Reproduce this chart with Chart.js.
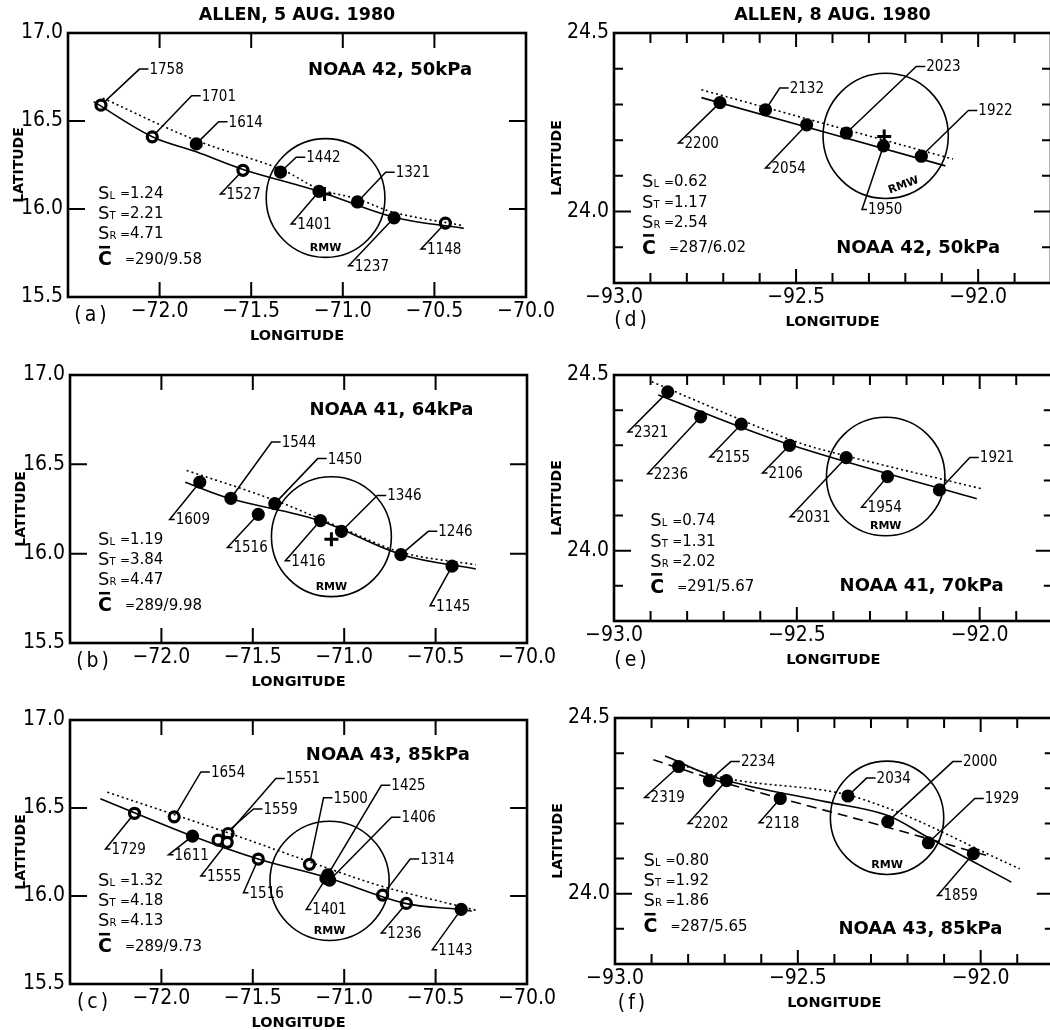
<!DOCTYPE html>
<html>
<head>
<meta charset="utf-8">
<script src="https://cdn.jsdelivr.net/npm/chart.js@4.4.1/dist/chart.umd.min.js"></script>
<style>
html,body{margin:0;padding:0;background:#fff;overflow:hidden;width:1050px;height:1030px;}
.p{position:absolute;}
</style>
</head>
<body>
<div class="p" id="w0"><canvas id="c0"></canvas></div>
<div class="p" id="w1"><canvas id="c1"></canvas></div>
<div class="p" id="w2"><canvas id="c2"></canvas></div>
<div class="p" id="w3"><canvas id="c3"></canvas></div>
<div class="p" id="w4"><canvas id="c4"></canvas></div>
<div class="p" id="w5"><canvas id="c5"></canvas></div>
<script>
// ================= DATA =================
// Panel (a) NOAA 42, 50 kPa, 5 Aug
const aTimes = ['1758','1701','1614','1527','1442','1401','1321','1237','1148'];
const aLon = [-72.32,-72.04,-71.80,-71.545,-71.34,-71.13,-70.92,-70.72,-70.44];
const aLat = [16.59,16.41,16.37,16.22,16.21,16.10,16.04,15.95,15.92];
const aSolidLon = [-72.36,-72.04,-71.80,-71.545,-71.13,-70.72,-70.34];
const aSolidLat = [16.61,16.41,16.325,16.225,16.10,15.953,15.89];
const aDotLon = [-72.31,-71.80,-71.34,-71.13,-70.92,-70.72,-70.34];
const aDotLat = [16.63,16.39,16.227,16.114,16.057,15.98,15.905];
const aCrossLon = [-71.10];
const aCrossLat = [16.085];

// Panel (b) NOAA 41, 64 kPa, 5 Aug
const bTimes = ['1609','1544','1516','1450','1416','1346','1246','1145'];
const bLon = [-71.79,-71.62,-71.47,-71.38,-71.13,-71.015,-70.69,-70.41];
const bLat = [16.40,16.31,16.22,16.28,16.185,16.125,15.995,15.93];
const bSolidLon = [-71.87,-71.62,-71.136,-70.685,-70.28];
const bSolidLat = [16.40,16.307,16.185,15.994,15.914];
const bDotLon = [-71.862,-71.378,-71.015,-70.685,-70.28];
const bDotLat = [16.466,16.298,16.144,16.007,15.938];
const bCrossLon = [-71.07];
const bCrossLat = [16.08];

// Panel (c) NOAA 43, 85 kPa, 5 Aug
const cTimes = ['1729','1654','1611','1559','1551','1555','1516','1500','1425','1406','1401','1314','1236','1143'];
const cLon = [-72.147,-71.93,-71.83,-71.69,-71.635,-71.64,-71.47,-71.19,-71.09,-71.08,-71.10,-70.79,-70.66,-70.36];
const cLat = [16.47,16.45,16.34,16.318,16.355,16.305,16.21,16.18,16.12,16.09,16.10,16.005,15.958,15.924];
const cSolidLon = [-72.334,-71.827,-71.471,-71.095,-70.667,-70.369,-70.303];
const cSolidLat = [16.553,16.339,16.21,16.105,15.958,15.924,15.914];
const cDotLon = [-72.296,-71.644,-71.049,-70.769,-70.275];
const cDotLat = [16.59,16.362,16.143,16.048,15.918];
const cCrossLon = [];
const cCrossLat = [];

// Panel (d) NOAA 42, 50 kPa, 8 Aug
const dTimes = ['2200','2132','2054','2023','1950','1922'];
const dLon = [-92.709,-92.584,-92.471,-92.362,-92.26,-92.156];
const dLat = [24.305,24.285,24.243,24.22,24.184,24.155];
const dSolidLon = [-92.76,-92.09];
const dSolidLat = [24.319,24.128];
const dDotLon = [-92.76,-92.069];
const dDotLat = [24.341,24.147];
const dCrossLon = [-92.258];
const dCrossLat = [24.21];

// Panel (e) NOAA 41, 70 kPa, 8 Aug
const eTimes = ['2321','2236','2155','2106','2031','1954','1921'];
const eLon = [-92.853,-92.763,-92.652,-92.52,-92.365,-92.252,-92.11];
const eLat = [24.452,24.381,24.36,24.30,24.265,24.211,24.173];
const eSolidLon = [-92.879,-92.52,-92.008];
const eSolidLat = [24.443,24.302,24.148];
const eDotLon = [-92.897,-92.518,-92.365,-91.994];
const eDotLat = [24.481,24.316,24.27,24.176];
const eCrossLon = [];
const eCrossLat = [];

// Panel (f) NOAA 43, 85 kPa, 8 Aug
const fTimes = ['2319','2234','2202','2118','2034','2000','1929','1859'];
const fLon = [-92.826,-92.742,-92.695,-92.548,-92.363,-92.254,-92.143,-92.02];
const fLat = [24.362,24.322,24.322,24.271,24.278,24.205,24.145,24.114];
const fSolidLon = [-92.863,-92.703,-92.425,-92.258,-92.147,-91.916];
const fSolidLat = [24.392,24.324,24.262,24.224,24.162,24.033];
const fDashLon = [-92.895,-92.695,-92.258,-91.971];
const fDashLat = [24.381,24.314,24.19,24.105];
const fDotLon = [-92.83,-92.685,-92.333,-91.893];
const fDotLat = [24.37,24.326,24.272,24.071];
const fCrossLon = [];
const fCrossLat = [];

// RMW circles (centre lon/lat, radius in degrees of longitude)
const rmwLon = [-71.094,-71.07,-71.08,-92.254,-92.257,-92.256];
const rmwLat = [16.0625,16.095,16.086,24.212,24.211,24.216];
const rmwRadius = [0.324,0.328,0.326,0.172,0.162,0.155];

// statistics
const statSL = ['1.24','1.19','1.32','0.62','0.74','0.80'];
const statST = ['2.21','3.84','4.18','1.17','1.31','1.92'];
const statSR = ['4.71','4.47','4.13','2.54','2.02','1.86'];
const statC  = ['290/9.58','289/9.98','289/9.73','287/6.02','291/5.67','287/5.65'];
const flights = ['NOAA 42, 50kPa','NOAA 41, 64kPa','NOAA 43, 85kPa','NOAA 42, 50kPa','NOAA 41, 70kPa','NOAA 43, 85kPa'];
const letters = ['(a)','(b)','(c)','(d)','(e)','(f)'];
const titles = ['ALLEN, 5 AUG. 1980','','','ALLEN, 8 AUG. 1980','',''];

// tick labels
const leftLonTicks = [-72.0,-71.5,-71.0,-70.5,-70.0];
const leftLonLabels = ['\u221272.0','\u221271.5','\u221271.0','\u221270.5','\u221270.0'];
const leftLatTicks = [17.0,16.5,16.0,15.5];
const leftLatLabels = ['17.0','16.5','16.0','15.5'];
const rightLonTicks = [-93.0,-92.5,-92.0];
const rightLonLabels = ['\u221293.0','\u221292.5','\u221292.0'];
const rightLatTicks = [24.5,24.0];
const rightLatLabels = ['24.5','24.0'];

// ================= LABEL PLACEMENT (elbow of each time-tag leader, data coords) =================
const aTagLon = [-72.11,-71.825,-71.678,-71.668,-71.254,-71.282,-70.766,-70.968,-70.573];
const aTagLat = [16.795,16.644,16.496,16.085,16.294,15.915,16.209,15.678,15.773];
const bTagLon = [-71.955,-71.397,-71.639,-71.145,-71.322,-70.819,-70.54,-70.53];
const bTagLat = [16.191,16.625,16.035,16.532,15.96,16.326,16.125,15.708];
const cTagLon = [-72.306,-71.784,-71.961,-71.496,-71.374,-71.784,-71.551,-71.113,-70.797,-70.741,-71.207,-70.639,-70.797,-70.518];
const cTagLat = [16.267,16.705,16.234,16.495,16.667,16.114,16.019,16.558,16.629,16.447,15.924,16.21,15.79,15.695];
const dTagLon = [-92.823,-92.545,-92.584,-92.17,-92.319,-92.027];
const dTagLat = [24.192,24.346,24.122,24.406,24.006,24.283];
const eTagLon = [-92.962,-92.908,-92.738,-92.594,-92.518,-92.323,-92.027];
const eTagLat = [24.338,24.219,24.267,24.221,24.097,24.124,24.265];
const fTagLon = [-92.919,-92.683,-92.8,-92.606,-92.312,-92.076,-92.016,-92.118];
const fTagLat = [24.274,24.376,24.2,24.202,24.329,24.376,24.271,23.995];

// ================= STYLE / LAYOUT =================
// indices of points drawn as open rings (per panel)
const HOLLOW = [[0,1,3,8],[],[0,1,3,4,5,6,7,11,12],[],[],[]];
const GEOM = [
 {L:68, R:526, T:33, B:297, yw:62, padR:34, side:0, statAt:[-72.336,16.097], noaaAt:[-71.19,16.786], letterDx:24, letterDy:19, rmwRot:0},
 {L:70, R:527, T:375, B:643, yw:62, padR:34, side:0, statAt:[-72.347,16.088], noaaAt:[-71.19,16.80], letterDx:24, letterDy:19, rmwRot:0},
 {L:70, R:527, T:720, B:984, yw:62, padR:34, side:0, statAt:[-72.347,16.097], noaaAt:[-71.21,16.80], letterDx:24, letterDy:19, rmwRot:0},
 {L:614, R:1055, T:33, B:283, yw:70, padR:6, side:1, statAt:[-92.923,24.088], noaaAt:[-92.39,23.898], letterDx:18, letterDy:38, rmwRot:-0.35},
 {L:614, R:1055, T:375, B:621, yw:70, padR:6, side:1, statAt:[-92.901,24.09], noaaAt:[-92.383,23.898], letterDx:18, letterDy:40, rmwRot:0},
 {L:615, R:1056, T:718, B:964, yw:70, padR:6, side:1, statAt:[-92.922,24.099], noaaAt:[-92.389,23.90], letterDx:18, letterDy:40, rmwRot:0}
];
const XH = 52, TOPPAD = 33;

const FN = "'Liberation Sans Narrow', 'DejaVu Sans Condensed', sans-serif";
const FS = "'DejaVu Sans', sans-serif";

function pts(lon, lat){ return lon.map((x,i)=>({x:x, y:lat[i]})); }
function labelFor(v, vals, labs){ const i = vals.findIndex(t=>Math.abs(t-v)<1e-6); return i<0 ? '' : labs[i]; }

const PANELS = [
 {times:aTimes, lon:aLon, lat:aLat, tagLon:aTagLon, tagLat:aTagLat, solid:pts(aSolidLon,aSolidLat), dot:pts(aDotLon,aDotLat), dash:null, cross:pts(aCrossLon,aCrossLat)},
 {times:bTimes, lon:bLon, lat:bLat, tagLon:bTagLon, tagLat:bTagLat, solid:pts(bSolidLon,bSolidLat), dot:pts(bDotLon,bDotLat), dash:null, cross:pts(bCrossLon,bCrossLat)},
 {times:cTimes, lon:cLon, lat:cLat, tagLon:cTagLon, tagLat:cTagLat, solid:pts(cSolidLon,cSolidLat), dot:pts(cDotLon,cDotLat), dash:null, cross:pts(cCrossLon,cCrossLat)},
 {times:dTimes, lon:dLon, lat:dLat, tagLon:dTagLon, tagLat:dTagLat, solid:pts(dSolidLon,dSolidLat), dot:pts(dDotLon,dDotLat), dash:null, cross:pts(dCrossLon,dCrossLat)},
 {times:eTimes, lon:eLon, lat:eLat, tagLon:eTagLon, tagLat:eTagLat, solid:pts(eSolidLon,eSolidLat), dot:pts(eDotLon,eDotLat), dash:null, cross:pts(eCrossLon,eCrossLat)},
 {times:fTimes, lon:fLon, lat:fLat, tagLon:fTagLon, tagLat:fTagLat, solid:pts(fSolidLon,fSolidLat), dot:pts(fDotLon,fDotLat), dash:pts(fDashLon,fDashLat), cross:pts(fCrossLon,fCrossLat)}
];

function drawStats(ctx, x, y, k){
  const rows = [['L',statSL[k]],['T',statST[k]],['R',statSR[k]]];
  const dy = [0, 20.5, 40.5];
  ctx.fillStyle = '#000';
  ctx.textAlign = 'left';
  ctx.textBaseline = 'alphabetic';
  rows.forEach((r,j)=>{
    const yy = y + dy[j];
    ctx.font = '18px ' + FS; ctx.fillText('S', x, yy + 7);
    ctx.font = '10px ' + FS; ctx.fillText(r[0], x + 11.5, yy + 7);
    ctx.font = '12px ' + FS; ctx.fillText('=', x + 22, yy + 5.5);
    ctx.font = '15px ' + FS; ctx.fillText(r[1], x + 32, yy + 6);
  });
  const yc = y + 66;
  ctx.font = 'bold 19px ' + FS; ctx.fillText('C', x, yc + 7.5);
  ctx.fillRect(x + 1, yc - 12, 11, 2.5);
  ctx.font = '12px ' + FS; ctx.fillText('=', x + 27, yc + 5.5);
  ctx.font = '15px ' + FS; ctx.fillText(statC[k], x + 37, yc + 6);
}

const deco = {
  id: 'deco',
  beforeDatasetsDraw(chart){
    const k = chart.options.plugins.deco.k;
    const P = PANELS[k], G = GEOM[k];
    const xs = chart.scales.x, ys = chart.scales.y, ctx = chart.ctx;
    ctx.save();
    // RMW circle
    const cx = xs.getPixelForValue(rmwLon[k]), cy = ys.getPixelForValue(rmwLat[k]);
    const r = Math.abs(xs.getPixelForValue(rmwLon[k] + rmwRadius[k]) - cx);
    ctx.strokeStyle = '#000'; ctx.lineWidth = 1.6;
    ctx.beginPath(); ctx.arc(cx, cy, r, 0, Math.PI*2); ctx.stroke();
    // RMW label
    ctx.save();
    const ph = -G.rmwRot;
    ctx.translate(cx + Math.sin(ph)*r*0.84, cy + Math.cos(ph)*r*0.84);
    ctx.rotate(G.rmwRot);
    ctx.font = 'bold 11px ' + FS; ctx.textAlign = 'center'; ctx.textBaseline = 'middle'; ctx.fillStyle = '#000';
    ctx.fillText('RMW', 0, 0);
    ctx.restore();
    // time-tag leaders
    ctx.font = '15px ' + FN; ctx.textAlign = 'left'; ctx.textBaseline = 'middle'; ctx.fillStyle = '#000';
    ctx.lineWidth = 1.5;
    P.times.forEach((t,i)=>{
      const px = xs.getPixelForValue(P.lon[i]), py = ys.getPixelForValue(P.lat[i]);
      const ex = xs.getPixelForValue(P.tagLon[i]), ey = ys.getPixelForValue(P.tagLat[i]);
      const hook = ey < py ? 9 : 5;
      ctx.beginPath(); ctx.moveTo(px, py); ctx.lineTo(ex, ey); ctx.lineTo(ex + hook, ey); ctx.stroke();
      ctx.fillText(t, ex + hook + 1, ey + 1);
    });
    ctx.restore();
  },
  afterDraw(chart){
    const k = chart.options.plugins.deco.k;
    const G = GEOM[k];
    const xs = chart.scales.x, ys = chart.scales.y, ctx = chart.ctx;
    const a = chart.chartArea;
    ctx.save();
    ctx.strokeStyle = '#000'; ctx.fillStyle = '#000';
    // frame
    ctx.lineWidth = 2.6;
    ctx.strokeRect(a.left, a.top, a.right - a.left, a.bottom - a.top);
    // inward ticks
    ctx.lineWidth = 2;
    const xv = G.side ? rightLonTicks : leftLonTicks;
    const yv = G.side ? rightLatTicks : leftLatTicks;
    xs.ticks.forEach(t=>{
      if (Math.abs(t.value - xs.min) < 1e-6 || Math.abs(t.value - xs.max) < 1e-6) return;
      const major = xv.some(v=>Math.abs(v - t.value) < 1e-6);
      const len = G.side ? (major ? 14 : 10) : 15;
      const px = xs.getPixelForValue(t.value);
      ctx.beginPath();
      ctx.moveTo(px, a.bottom); ctx.lineTo(px, a.bottom - len);
      ctx.moveTo(px, a.top); ctx.lineTo(px, a.top + len);
      ctx.stroke();
    });
    ys.ticks.forEach(t=>{
      if (Math.abs(t.value - ys.min) < 1e-6 || Math.abs(t.value - ys.max) < 1e-6) return;
      const major = yv.some(v=>Math.abs(v - t.value) < 1e-6);
      const len = G.side ? (major ? 17 : 9) : 17;
      const py = ys.getPixelForValue(t.value);
      ctx.beginPath();
      ctx.moveTo(a.left, py); ctx.lineTo(a.left + len, py);
      ctx.moveTo(a.right, py); ctx.lineTo(a.right - len, py);
      ctx.stroke();
    });
    // panel title
    if (titles[k]) {
      ctx.font = 'bold 17.5px ' + FS; ctx.textAlign = 'center'; ctx.textBaseline = 'middle';
      ctx.fillText(titles[k], (a.left + a.right)/2, a.top - 18);
    }
    // flight / level
    ctx.font = 'bold 18px ' + FS; ctx.textAlign = 'left'; ctx.textBaseline = 'middle';
    ctx.fillText(flights[k], xs.getPixelForValue(G.noaaAt[0]), ys.getPixelForValue(G.noaaAt[1]));
    // stats
    drawStats(ctx, xs.getPixelForValue(G.statAt[0]), ys.getPixelForValue(G.statAt[1]), k);
    // panel letter
    ctx.font = '21px ' + FN; ctx.textAlign = 'center'; ctx.textBaseline = 'middle';
    try { ctx.letterSpacing = '3px'; } catch(e) {}
    ctx.fillText(letters[k], a.left + G.letterDx, a.bottom + G.letterDy);
    try { ctx.letterSpacing = '0px'; } catch(e) {}
    ctx.restore();
  }
};

GEOM.forEach((G,k)=>{
  const w = document.getElementById('w' + k);
  const left = G.L - G.yw, top = G.T - TOPPAD;
  w.style.left = left + 'px';
  w.style.top = top + 'px';
  w.style.width = (G.R - G.L + G.yw + G.padR) + 'px';
  w.style.height = (G.B - G.T + TOPPAD + XH) + 'px';
  const P = PANELS[k];
  const side = G.side;
  const fills = P.lon.map((_,i)=> HOLLOW[k].indexOf(i) >= 0 ? '#fff' : '#000');
  const ds = [
    {data:P.solid, showLine:true, borderColor:'#000', borderWidth:1.6, pointRadius:0, tension:0.35, fill:false},
    {data:P.dot, showLine:true, borderColor:'#000', borderWidth:1.6, borderDash:[2,3], pointRadius:0, tension:0.35, fill:false}
  ];
  if (P.dash) ds.push({data:P.dash, showLine:true, borderColor:'#000', borderWidth:1.6, borderDash:[10,6], pointRadius:0, tension:0.3, fill:false});
  ds.push({data:pts(P.lon, P.lat), showLine:false, pointRadius:5, pointBackgroundColor:fills, pointBorderColor:'#000', pointBorderWidth:3.2});
  if (P.cross.length) ds.push({data:P.cross, showLine:false, pointStyle:'cross', pointRadius:7, pointBorderColor:'#000', pointBorderWidth:3});
  new Chart(document.getElementById('c' + k), {
    type: 'scatter',
    data: {datasets: ds},
    plugins: [deco],
    options: {
      responsive: true, maintainAspectRatio: false, animation: false, events: [],
      devicePixelRatio: 1,
      layout: {padding: {top: TOPPAD, right: G.padR, left: 0, bottom: 0}},
      plugins: {legend: {display: false}, tooltip: {enabled: false}, deco: {k: k}},
      scales: {
        x: {
          type: 'linear',
          min: side ? -93.0 : -72.5, max: side ? -91.8 : -70.0,
          grid: {display: false, drawTicks: false}, border: {display: false},
          ticks: {stepSize: side ? 0.1 : 0.5, autoSkip: false, maxRotation: 0, minRotation: 0, padding: 2,
                  color: '#000', font: {family: FN, size: 21},
                  callback: v => side ? labelFor(v, rightLonTicks, rightLonLabels) : labelFor(v, leftLonTicks, leftLonLabels)},
          title: {display: true, text: 'LONGITUDE', color: '#000', font: {family: FS, size: 14.5, weight: 'bold'}, padding: {top: 0, bottom: 4}},
          afterFit: s => { s.height = XH; }
        },
        y: {
          type: 'linear',
          min: side ? 23.8 : 15.5, max: side ? 24.5 : 17.0,
          grid: {display: false, drawTicks: false}, border: {display: false},
          ticks: {stepSize: side ? 0.1 : 0.5, autoSkip: false, padding: 5,
                  color: '#000', font: {family: FN, size: 21},
                  callback: v => side ? labelFor(v, rightLatTicks, rightLatLabels) : labelFor(v, leftLatTicks, leftLatLabels)},
          title: {display: true, text: 'LATITUDE', color: '#000', font: {family: FS, size: 14, weight: 'bold'}, padding: {top: 5, bottom: 0}},
          afterFit: s => { s.width = G.yw; }
        }
      }
    }
  });
});
</script>
</body>
</html>
